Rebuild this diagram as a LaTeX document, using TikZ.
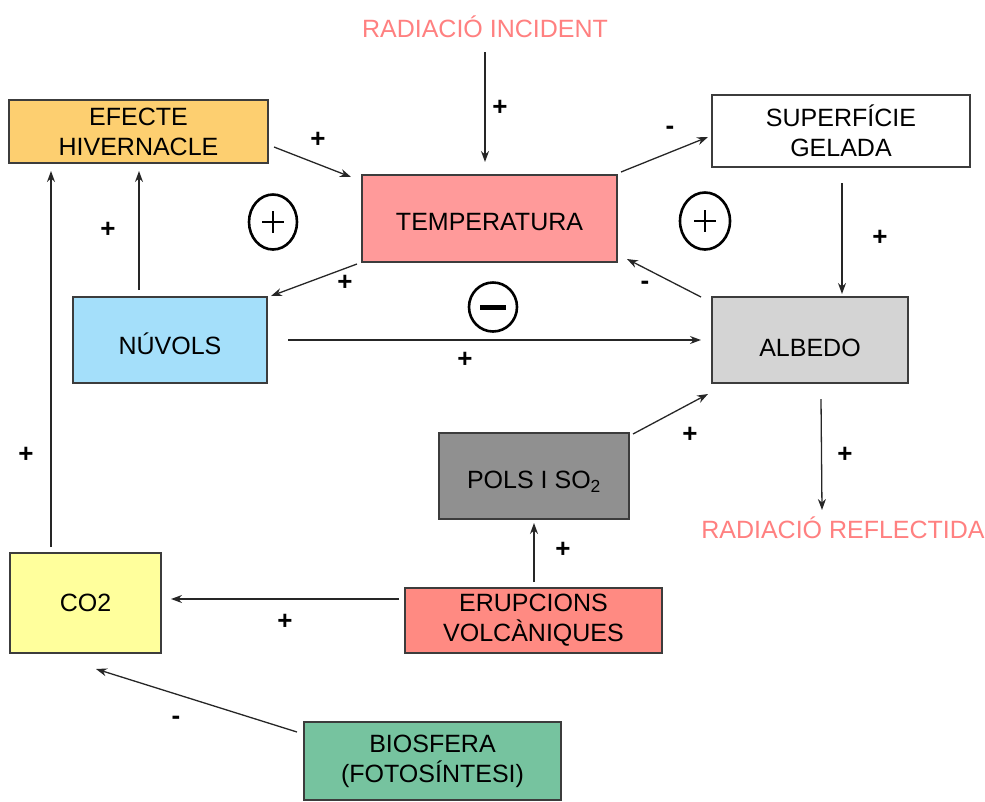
\documentclass[tikz,border=0pt]{standalone}
\usepackage{fontspec}
\setmainfont{Liberation Sans}
\usetikzlibrary{arrows.meta,calc,shapes.geometric}
\definecolor{bord}{HTML}{3C3C3C}
\definecolor{cEfe}{HTML}{FDCF70}
\definecolor{cTemp}{HTML}{FF9A9A}
\definecolor{cSup}{HTML}{FFFFFF}
\definecolor{cNuv}{HTML}{A4DFFA}
\definecolor{cAlb}{HTML}{D4D4D4}
\definecolor{cPols}{HTML}{909090}
\definecolor{cCO}{HTML}{FFFF9C}
\definecolor{cErup}{HTML}{FF8A82}
\definecolor{cBio}{HTML}{76C39F}
\definecolor{cRad}{HTML}{FF8080}
\newcommand{\lowr}[2]{\raisebox{-#1}[\height][\depth]{#2}}
\begin{document}
\begin{tikzpicture}[x=1pt,y=-1pt,
  every node/.style={font=\fontsize{25}{30}\selectfont},
  box/.style 2 args={draw=bord, line width=2pt, align=center, inner sep=0pt,
    minimum width=#1, minimum height=#2},
  radtext/.style={text=cRad, inner sep=0pt},
  arr/.style={-{Stealth[length=11pt,width=8pt]}, line width=1.3pt, draw=black!85},
  sgn/.style={font=\fontsize{26}{26}\selectfont\bfseries, inner sep=0pt},
  loop/.style={draw=black, ellipse, line width=2.6pt, inner sep=0pt, minimum width=#1}
]
\useasboundingbox (0,0) rectangle (985,801);

% boxes
\node[box={259}{63}, fill=cEfe] (efe) at (138.5,131.5) {EFECTE\\HIVERNACLE};
\node[box={255}{87}, fill=cTemp] (temp) at (489.5,218.5) {\lowr{4pt}{TEMPERATURA}};
\node[box={258}{72}, fill=cSup] (sup) at (841,131) {SUPERFÍCIE\\GELADA};
\node[box={194}{86}, fill=cNuv] (nuv) at (170,340) {\lowr{4pt}{NÚVOLS}};
\node[box={196}{86}, fill=cAlb] (alb) at (810,340) {\lowr{8pt}{ALBEDO}};
\node[box={190}{86}, fill=cPols] (pols) at (534,476) {\lowr{6pt}{POLS I SO\textsubscript{2}}};
\node[box={151}{100}, fill=cCO] (co2) at (85.5,603) {CO2};
\node[box={257}{65}, fill=cErup] (erup) at (533.5,620.5) {ERUPCIONS\\VOLCÀNIQUES};
\node[box={257}{78}, fill=cBio] (bio) at (432.5,761) {BIOSFERA\\(FOTOSÍNTESI)};

% free texts
\node[radtext] (radinc) at (485,27) {RADIACIÓ INCIDENT};
\node[radtext] (radref) at (843,528) {RADIACIÓ REFLECTIDA};

% loop signs
\node[loop=48pt, minimum height=55pt] (loopL) at (273,222) {};
\node[loop=50pt, minimum height=57pt] (loopR) at (705,221) {};
\node[loop=48pt, minimum height=49pt] (loopM) at (493,307) {};
\draw[line width=2pt] ($(loopL)+(-11,0)$) -- ($(loopL)+(11,0)$) ($(loopL)+(0,-11)$) -- ($(loopL)+(0,11)$);
\draw[line width=2pt] ($(loopR)+(-11,0)$) -- ($(loopR)+(11,0)$) ($(loopR)+(0,-11)$) -- ($(loopR)+(0,11)$);
\draw[line width=5pt] ($(loopM)+(-13,0)$) -- ($(loopM)+(13,0)$);

% connectors
\draw[arr] ($(radinc.center)+(0,25)$) -- ($(radinc.center |- temp.north)+(0,-12)$);
\draw[arr] ($(efe.east)+(5,15.5)$) -- ($(temp.north west)+(-10,3)$);
\draw[arr] ($(nuv.north west)+(67,-6)$) -- ($(efe.south west)+(131,7)$);
\draw[arr] ($(co2.north west)+(42,-5)$) -- ($(efe.south west)+(43,7)$);
\draw[arr] ($(temp.south west)+(-4,1)$) -- ($(nuv.north east)+(3,0)$);
\draw[arr] ($(temp.north east)+(3,-2)$) -- ($(sup.west)+(-3,6)$);
\draw[arr] ($(sup.south west)+(131,15)$) -- ($(alb.north west)+(131,-2)$);
\draw[arr] ($(alb.north west)+(-10,1)$) -- ($(temp.south east)+(9,-4)$);
\draw[arr] ($(nuv.east)+(20,0)$) -- ($(alb.west)+(-10,0)$);
\draw[arr] ($(pols.north east)+(3,2)$) -- ($(alb.south west)+(-3,10)$);
\draw[arr] ($(alb.south west)+(110,15)$) -- ($(radref.center)+(-21,-18)$);
\draw[arr] ($(erup.north west)+(130,-5)$) -- ($(pols.south west)+(96,3)$);
\draw[arr] ($(erup.north west)+(-5,12)$) -- ($(co2.north east)+(9,47)$);
\draw[arr] ($(bio.north west)+(-6,11)$) -- ($(co2.south west)+(87,15)$);

% signs on connectors
\node[sgn] at (500,108) {+};
\node[sgn] at (318,140) {+};
\node[sgn] at (108,230) {+};
\node[sgn] at (26,455) {+};
\node[sgn] at (345,283) {+};
\node[sgn] at (670,130) {-};
\node[sgn] at (880,238) {+};
\node[sgn] at (645,285) {-};
\node[sgn] at (465,360) {+};
\node[sgn] at (690,435) {+};
\node[sgn] at (845,455) {+};
\node[sgn] at (563,550) {+};
\node[sgn] at (285,622) {+};
\node[sgn] at (176,720) {-};
\end{tikzpicture}
\end{document}
